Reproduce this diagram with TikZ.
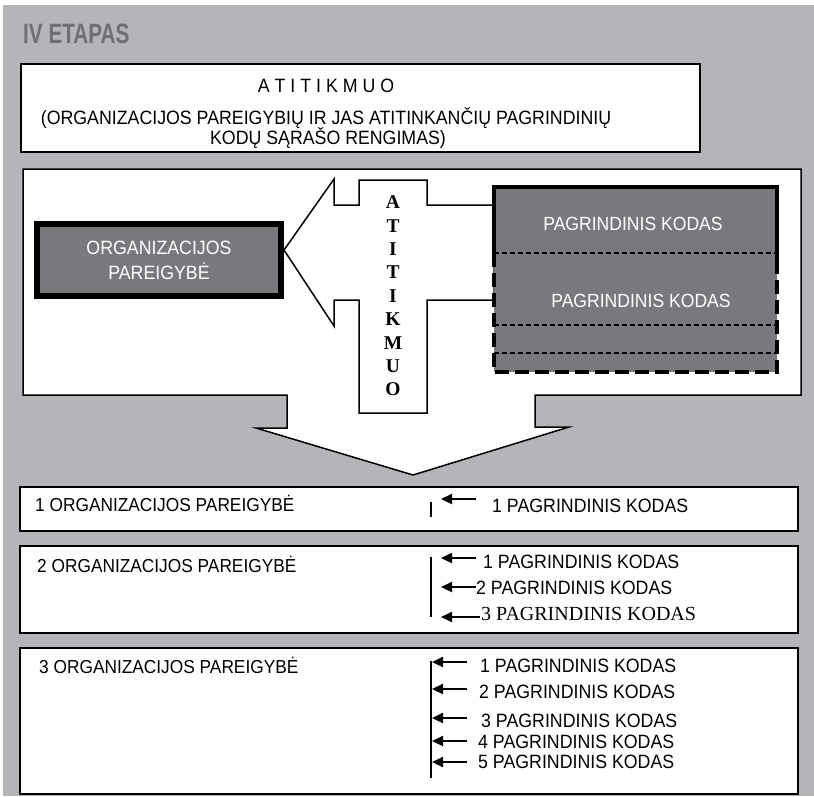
\documentclass[tikz,border=0pt]{standalone}
\usepackage{fontspec}
\setmainfont{Liberation Sans}[FakeStretch=0.92]
\newfontfamily\titlefont{Liberation Sans}[FakeStretch=0.74]
\newfontfamily\serifx{Liberation Serif}
\usetikzlibrary{arrows.meta}
\definecolor{bggray}{HTML}{B4B5B8}
\definecolor{darkfill}{HTML}{78797D}
\definecolor{titlegray}{HTML}{6E6F72}
\begin{document}
\begin{tikzpicture}[x=1pt,y=-1pt,
  txt/.style={inner sep=0pt, anchor=base west},
  topt/.style={inner sep=0pt, anchor=base, font=\fontsize{19.3}{21}\selectfont},
  orgt/.style={txt, font=\fontsize{18.8}{21}\selectfont},
  kodt/.style={txt, font=\fontsize{19.3}{21}\selectfont},
  rowbox/.style={draw=black, line width=2pt, fill=white, inner sep=0pt, anchor=north west},
  kodarrow/.style={line width=2.2pt, -{Triangle[length=11pt,width=10pt]}},
  bar/.style={line width=1.5pt},
  outline/.style={draw=black, line width=1.5pt, fill=white, line join=miter},
  thindash/.style={line width=1.2pt, dash pattern=on 5pt off 3pt},
  thickdash/.style={line width=4pt, dash pattern=on 14pt off 6pt}]
\useasboundingbox (0,0) rectangle (814,796);
\fill[white] (0,0) rectangle (814,796);
\fill[bggray] (3,5) rectangle (814,796);

% title
\node[txt, font=\titlefont\bfseries\fontsize{28}{30}\selectfont, text=titlegray] (title) at (23,43) {IV ETAPAS};

% top box
\node[rowbox, minimum width=679pt, minimum height=88pt] (topbox) at (20,63) {};
\node[topt] (topl1) at (326,92) {A T I T I K M U O};
\node[topt] (topl2) at (326,124) {(ORGANIZACIJOS PAREIGYBIŲ IR JAS ATITINKANČIŲ PAGRINDINIŲ};
\node[topt] (topl3) at (328,144) {KODŲ SĄRAŠO RENGIMAS)};

% big white shape with down arrow
\draw[outline] (23,169) -- (801,169) -- (801,395) -- (535,395) -- (535,427) -- (569,427)
  -- (413,475) -- (256,428) -- (287,428) -- (287,395) -- (23,395) -- cycle;

% left-pointing arrow with vertical bar
\draw[outline] (359,180) -- (427,180) -- (427,205) -- (494,205) -- (494,300) -- (427,300)
  -- (427,413) -- (359,413) -- (359,300) -- (334,300) -- (334,326) -- (284,250)
  -- (334,179) -- (334,205) -- (359,205) -- cycle;
\node[inner sep=0pt, align=center, font=\serifx\bfseries\fontsize{19.5}{23.4}\selectfont] (vtext) at (393,296)
  {A\\T\\I\\T\\I\\K\\M\\U\\O};

% left dark box
\node[draw=black, line width=6pt, fill=darkfill, minimum width=244pt, minimum height=72pt,
  inner sep=0pt, align=center, text=white, font=\fontsize{19.3}{25}\selectfont] (orgbox) at (159,260)
  {ORGANIZACIJOS\\PAREIGYBĖ};

% right dark box
\fill[darkfill] (494,187) rectangle (777,372);
\draw[line width=4.5pt] (494,253) -- (494,187) -- (777,187) -- (777,270);
\draw[thickdash] (494,253) -- (494,372) -- (777,372) -- (777,270);
\draw[thindash] (494,253) -- (777,253);
\draw[thindash] (494,325) -- (777,325);
\draw[thindash] (494,353) -- (777,353);
\node[inner sep=0pt, anchor=base, text=white, font=\fontsize{19.1}{21}\selectfont] (pk1) at (633,230) {PAGRINDINIS KODAS};
\node[inner sep=0pt, anchor=base, text=white, font=\fontsize{19.1}{21}\selectfont] (pk2) at (641,307) {PAGRINDINIS KODAS};

% row boxes
\node[rowbox, minimum width=778pt, minimum height=44pt] (row1) at (19,486) {};
\node[rowbox, minimum width=778pt, minimum height=87pt] (row2) at (19,545) {};
\node[rowbox, minimum width=778pt, minimum height=146pt] (row3) at (19,647) {};

\node[orgt] (o1) at (35,511) {1 ORGANIZACIJOS PAREIGYBĖ};
\node[orgt] (o2) at (37,572) {2 ORGANIZACIJOS PAREIGYBĖ};
\node[orgt] (o3) at (39,673) {3 ORGANIZACIJOS PAREIGYBĖ};

% row 1
\coordinate (r1top) at (431,502); \coordinate (r1bot) at (431,517);
\draw[bar] (r1top) -- (r1bot);
\coordinate (a1t) at (476,499); \coordinate (a1h) at (441,499);
\draw[kodarrow] (a1t) -- (a1h);
\node[kodt] (k11) at (492,512) {1 PAGRINDINIS KODAS};

% row 2
\coordinate (r2top) at (431,557); \coordinate (r2bot) at (431,617);
\draw[bar] (r2top) -- (r2bot);
\coordinate (b1t) at (476,558); \coordinate (b1h) at (441,558);
\coordinate (b2t) at (476,587); \coordinate (b2h) at (441,587);
\coordinate (b3t) at (480,617); \coordinate (b3h) at (441,617);
\draw[kodarrow] (b1t) -- (b1h);
\draw[kodarrow] (b2t) -- (b2h);
\draw[kodarrow] (b3t) -- (b3h);
\node[kodt] (k21) at (483,568) {1 PAGRINDINIS KODAS};
\node[kodt] (k22) at (476,594) {2 PAGRINDINIS KODAS};
\node[txt, font=\serifx\fontsize{20}{22}\selectfont] (k23) at (481,620) {3 PAGRINDINIS KODAS};

% row 3
\coordinate (r3top) at (431,661); \coordinate (r3bot) at (431,778);
\draw[bar] (r3top) -- (r3bot);
\foreach \n/\yy in {1/662,2/689,3/718,4/741,5/762}{
  \coordinate (c\n t) at (467,\yy); \coordinate (c\n h) at (432,\yy);
  \draw[kodarrow] (c\n t) -- (c\n h);
}
\node[kodt] (k31) at (480,672) {1 PAGRINDINIS KODAS};
\node[kodt] (k32) at (479,698) {2 PAGRINDINIS KODAS};
\node[kodt] (k33) at (481,727) {3 PAGRINDINIS KODAS};
\node[kodt] (k34) at (478,748) {4 PAGRINDINIS KODAS};
\node[kodt] (k35) at (478,768) {5 PAGRINDINIS KODAS};
\end{tikzpicture}
\end{document}
